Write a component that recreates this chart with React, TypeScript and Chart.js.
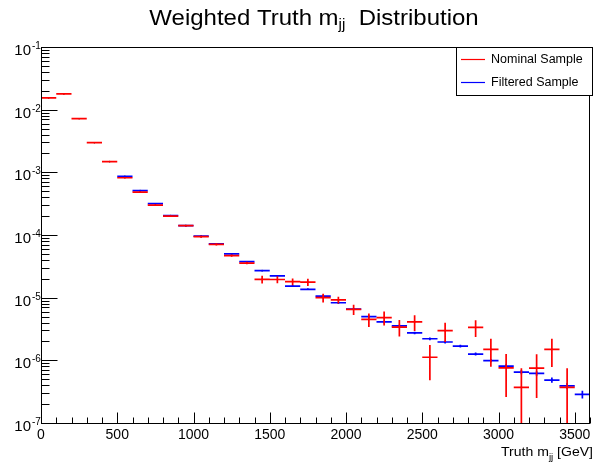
import React, { useEffect, useRef } from "react";
import { Chart, registerables } from "chart.js";

Chart.register(...registerables);

// ---- data ----
const binCenters = [
  50, 150, 250, 350, 450, 550, 650, 750, 850, 950,
  1050, 1150, 1250, 1350, 1450, 1550, 1650, 1750, 1850, 1950,
  2050, 2150, 2250, 2350, 2450, 2550, 2650, 2750, 2850, 2950,
  3050, 3150, 3250, 3350, 3450, 3550,
];
const BIN_WIDTH = 100;

const nominal = [
  0.0154, 0.0178, 0.00718, 0.00297, 0.00148,
  8.2e-4, 4.85e-4, 3.0e-4, 2.0e-4, 1.41e-4,
  9.4e-5, 7.1e-5, 4.7e-5, 3.57e-5, 1.96e-5,
  1.95e-5, 1.8e-5, 1.77e-5, 1.0e-5, 9.2e-6,
  6.5e-6, 4.5e-6, 4.8e-6, 3.4e-6, 4.1e-6,
  1.12e-6, 2.97e-6, null, 3.35e-6, 1.5e-6,
  7.6e-7, 3.7e-7, 7.5e-7, 1.5e-6, 3.7e-7, null,
];
const nominalErr = [
  2e-4, 2e-4, 1e-4, 4e-5, 2e-5,
  1.2e-5, 8e-6, 6e-6, 5e-6, 4e-6,
  3.5e-6, 3e-6, 2e-6, 1.6e-6, 2.7e-6,
  2.5e-6, 2.2e-6, 2.3e-6, 1.6e-6, 1.1e-6,
  1.2e-6, 1.1e-6, 1.2e-6, 1.0e-6, 1.15e-6,
  6.4e-7, 1.0e-6, null, 1.0e-6, 7.1e-7,
  5.0e-7, 3.75e-7, 5.0e-7, 7.2e-7, 3.75e-7, null,
];
const filtered = [
  null, null, null, null, null,
  8.65e-4, 5.1e-4, 3.16e-4, 2.04e-4, 1.41e-4,
  9.6e-5, 7.2e-5, 4.98e-5, 3.75e-5, 2.7e-5,
  2.23e-5, 1.53e-5, 1.36e-5, 1.06e-5, 8.3e-6,
  6.6e-6, 4.98e-6, 4.1e-6, 3.55e-6, 2.74e-6,
  2.21e-6, 1.96e-6, 1.69e-6, 1.26e-6, 9.9e-7,
  8.1e-7, 6.5e-7, 6.2e-7, 4.85e-7, 3.9e-7, 2.87e-7,
];
const filteredErr = [
  null, null, null, null, null,
  1e-5, 6e-6, 4e-6, 3e-6, 2.5e-6,
  2e-6, 1.6e-6, 1.2e-6, 1e-6, 7e-7,
  6e-7, 4.5e-7, 4e-7, 3.5e-7, 3e-7,
  2.5e-7, 2e-7, 1.8e-7, 1.6e-7, 1.3e-7,
  1.1e-7, 1e-7, 9e-8, 7e-8, 6e-8,
  5.5e-8, 5e-8, 5e-8, 4.5e-8, 4.5e-8, 4e-8,
];

const xMajorTicks = [0, 500, 1000, 1500, 2000, 2500, 3000, 3500];
const xTickLabels = ["0", "500", "1000", "1500", "2000", "2500", "3000", "3500"];
const xMinorStep = 100;
const yDecades = [-7, -6, -5, -4, -3, -2, -1];
const seriesNames = ["Nominal Sample", "Filtered Sample"];
const seriesColors = ["#ff0000", "#0000ff"];

const FONT = "'Liberation Sans', Arial, Helvetica, sans-serif";

type P = { x: number; y: number | null };

function hLines(vals: (number | null)[]): P[] {
  const pts: P[] = [];
  vals.forEach((v, i) => {
    if (v == null) return;
    const c = binCenters[i];
    pts.push({ x: c - BIN_WIDTH / 2, y: v }, { x: c + BIN_WIDTH / 2, y: v }, { x: c + BIN_WIDTH / 2, y: null });
  });
  return pts;
}
function vLines(vals: (number | null)[], errs: (number | null)[]): P[] {
  const pts: P[] = [];
  vals.forEach((v, i) => {
    const e = errs[i];
    if (v == null || e == null) return;
    const c = binCenters[i];
    pts.push({ x: c, y: Math.max(v - e, 1e-10) }, { x: c, y: v + e }, { x: c, y: null });
  });
  return pts;
}
function markers(vals: (number | null)[]): P[] {
  const pts: P[] = [];
  vals.forEach((v, i) => {
    if (v == null) return;
    pts.push({ x: binCenters[i], y: v });
  });
  return pts;
}

function drawRich(
  ctx: CanvasRenderingContext2D,
  parts: { t: string; size: number; dy: number }[],
  x: number,
  baseline: number,
  align: "left" | "right" | "center",
  stretch = 1
) {
  let total = 0;
  const widths = parts.map((p) => {
    ctx.font = `${p.size}px ${FONT}`;
    const w = ctx.measureText(p.t).width * stretch;
    total += w;
    return w;
  });
  let cx = align === "left" ? x : align === "right" ? x - total : x - total / 2;
  ctx.textAlign = "left";
  ctx.textBaseline = "alphabetic";
  parts.forEach((p, i) => {
    ctx.font = `${p.size}px ${FONT}`;
    ctx.save();
    ctx.translate(cx, baseline + p.dy);
    ctx.scale(stretch, 1);
    ctx.fillText(p.t, 0, 0);
    ctx.restore();
    cx += widths[i];
  });
}

const rootPlugin = {
  id: "rootStyle",
  beforeDraw(chart: any) {
    const ctx = chart.ctx as CanvasRenderingContext2D;
    ctx.save();
    ctx.fillStyle = "#ffffff";
    ctx.fillRect(0, 0, chart.width, chart.height);
    ctx.restore();
  },
  afterDraw(chart: any) {
    const ctx = chart.ctx as CanvasRenderingContext2D;
    const { left, right, top, bottom } = chart.chartArea;
    const xs = chart.scales.x;
    const ys = chart.scales.y;
    ctx.save();
    ctx.strokeStyle = "#000";
    ctx.fillStyle = "#000";
    ctx.lineWidth = 1;
    // frame
    ctx.strokeRect(Math.round(left) + 0.5, Math.round(top) + 0.5, Math.round(right - left) - 1, Math.round(bottom - top));
    const yb = Math.round(bottom) + 0.5;
    // x ticks
    ctx.beginPath();
    for (let v = xs.min; v <= xs.max + 1e-6; v += xMinorStep) {
      const px = Math.round(xs.getPixelForValue(v)) + 0.5;
      const major = xMajorTicks.includes(v);
      ctx.moveTo(px, yb);
      ctx.lineTo(px, yb - (major ? 11 : 6));
    }
    // y ticks
    const xl = Math.round(left) + 0.5;
    yDecades.forEach((d) => {
      const base = Math.pow(10, d);
      const py = Math.round(ys.getPixelForValue(base)) + 0.5;
      ctx.moveTo(xl, py);
      ctx.lineTo(xl + 16, py);
      if (d < yDecades[yDecades.length - 1]) {
        for (let k = 2; k <= 9; k++) {
          const pm = Math.round(ys.getPixelForValue(k * base)) + 0.5;
          ctx.moveTo(xl, pm);
          ctx.lineTo(xl + 8, pm);
        }
      }
    });
    ctx.stroke();

    // x labels
    ctx.font = `14px ${FONT}`;
    ctx.textAlign = "center";
    ctx.textBaseline = "alphabetic";
    xMajorTicks.forEach((v, i) => {
      const px = xs.getPixelForValue(v);
      ctx.fillText(xTickLabels[i], px, bottom + 16);
    });
    // y labels
    yDecades.forEach((d) => {
      const py = ys.getPixelForValue(Math.pow(10, d));
      ctx.font = `15px ${FONT}`;
      ctx.textAlign = "right";
      ctx.fillText("10", 31, py + 8);
      ctx.font = `10px ${FONT}`;
      ctx.textAlign = "left";
      ctx.fillText(String(d), 32, py + 2);
    });

    // axis title
    drawRich(
      ctx,
      [
        { t: "Truth m", size: 13, dy: 0 },
        { t: "jj", size: 9, dy: 3.5 },
        { t: " [GeV]", size: 13, dy: 0 },
      ],
      593,
      456,
      "right",
      1.08
    );

    // main title
    drawRich(
      ctx,
      [
        { t: "Weighted Truth m", size: 22, dy: 0 },
        { t: "jj", size: 14, dy: 4 },
        { t: "  Distribution", size: 22, dy: 0 },
      ],
      314,
      25,
      "center",
      1.09
    );

    // legend
    const lx0 = 456, ly0 = 47, lx1 = 593, ly1 = 95;
    ctx.fillStyle = "#fff";
    ctx.fillRect(lx0, ly0, lx1 - lx0, ly1 - ly0);
    ctx.strokeStyle = "#000";
    ctx.strokeRect(lx0 + 0.5, ly0 + 0.5, lx1 - lx0 - 1, ly1 - ly0);
    const rows = [59, 82];
    seriesNames.forEach((name, i) => {
      ctx.strokeStyle = seriesColors[i];
      ctx.lineWidth = 1.2;
      ctx.beginPath();
      ctx.moveTo(461, rows[i] + 0.5);
      ctx.lineTo(485, rows[i] + 0.5);
      ctx.stroke();
      ctx.fillStyle = "#000";
      ctx.font = `12.5px ${FONT}`;
      ctx.textAlign = "left";
      ctx.textBaseline = "middle";
      ctx.fillText(name, 491, rows[i] + 0.5);
    });
    ctx.restore();
  },
};

export default function App() {
  const ref = useRef<HTMLCanvasElement | null>(null);
  useEffect(() => {
    document.body.style.margin = "0";
    const canvas = ref.current;
    if (!canvas) return;
    const common = { pointRadius: 0, fill: false, spanGaps: false, tension: 0 };
    const chart = new Chart(canvas, {
      type: "line",
      data: {
        datasets: [
          { ...common, data: hLines(nominal), borderColor: seriesColors[0], borderWidth: 1.7 },
          { ...common, data: vLines(nominal, nominalErr), borderColor: seriesColors[0], borderWidth: 1.7 },
          { ...common, data: hLines(filtered), borderColor: seriesColors[1], borderWidth: 1.7 },
          { ...common, data: vLines(filtered, filteredErr), borderColor: seriesColors[1], borderWidth: 1.7 },
          {
            data: markers(nominal),
            showLine: false,
            pointRadius: 0.8,
            pointBackgroundColor: "#000",
            pointBorderWidth: 0,
          },
          {
            data: markers(filtered),
            showLine: false,
            pointRadius: 0.8,
            pointBackgroundColor: "#000",
            pointBorderWidth: 0,
          },
        ] as any,
      },
      options: {
        animation: false,
        responsive: false,
        devicePixelRatio: 1,
        layout: { padding: { left: 41, top: 47, right: 1, bottom: 42 } },
        plugins: { legend: { display: false }, tooltip: { enabled: false }, title: { display: false } },
        events: [],
        scales: {
          x: { type: "linear", min: 0, max: 3600, display: false },
          y: { type: "logarithmic", min: 1e-7, max: 1e-1, display: false },
        },
      },
      plugins: [rootPlugin],
    });
    return () => chart.destroy();
  }, []);
  return (
    <div style={{ width: 594, height: 465 }}>
      <canvas ref={ref} width={594} height={465} style={{ display: "block" }} />
    </div>
  );
}
